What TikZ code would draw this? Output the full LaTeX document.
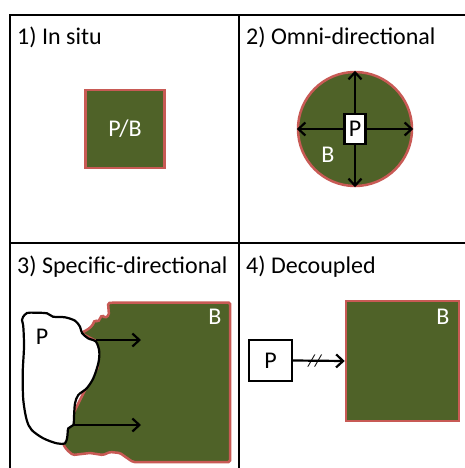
\documentclass[tikz,border=0pt]{standalone}
\usepackage{fontspec}
\setmainfont{Carlito}
\usetikzlibrary{arrows.meta}
\definecolor{bulkgreen}{RGB}{79,98,40}
\definecolor{bulkrim}{RGB}{200,90,85}
\tikzset{
  bulk/.style={fill=bulkgreen, draw=bulkrim, line width=2.5pt},
  pbox/.style={draw, line width=2.2pt, fill=white, inner sep=0pt},
  flow/.style={-{Straight Barb[length=7pt,width=13pt]}, line width=2.2pt},
  frameline/.style={line width=1.8pt},
  title/.style={anchor=base west, inner sep=0pt}
}
\begin{document}
\begin{tikzpicture}[x=1pt, y=-1pt, font=\fontsize{24}{28}\selectfont]
\useasboundingbox (0,0) rectangle (465,468);
% frame
\draw [frameline] (10,468) -- (10,15) -- (465,15);
\draw [frameline] (239,15) -- (239,468);
\draw [frameline] (10,243) -- (465,243);
\node [title] (t1) at (17,45) {1) In situ};
\node [title] (t2) at (246,45) {2) Omni-directional};
\node [title] (t3) at (17,273) {3) Specific-directional};
\node [title] (t4) at (246,273) {4) Decoupled};

% 1) in situ
\node [bulk, minimum width=79pt, minimum height=78pt, text=white] (pb) at (125,129) {P/B};

% 2) omni-directional
\node [bulk, circle, minimum size=114pt] (b2) at (355,129) {};
\node [pbox, minimum width=21pt, minimum height=30pt] (p2) at (355,129) {P};
\draw [flow] (p2.north) -- (b2.north);
\draw [flow] (p2.south) -- (b2.south);
\draw [flow] (p2.west) -- (b2.west);
\draw [flow] (p2.east) -- (b2.east);
\node [text=white] (lb2) at (328,155) {B};

% 3) specific-directional
\draw [bulk, rounded corners=1.5pt] (116,302.5) -- (230,302.5) -- (230,462) -- (133,462)
  -- (127,458) -- (120,453) -- (110,452) -- (103,455) -- (90,453) -- (73,455)
  -- (67,450) -- (63,444) -- (70,420) -- (85,390) -- (98,367) -- (96,341)
  -- (81,333) -- (87,330) -- (92,326) -- (95,320) -- (98,322) -- (102,315)
  -- (105,318) -- (109,315) -- (108,303) -- cycle;
\draw [line width=2.2pt, fill=white] plot [smooth cycle, tension=0.5] coordinates {
  (23,317) (27,313) (35,312.7) (47,313.3) (53,316.7) (65,317.3) (75,320.7)
  (80,326.7) (82,333) (88,338.3) (96,341.7) (99.3,351.7) (98.3,363.3)
  (93.3,378.3) (86.7,388.3) (78.3,395) (75,403.3) (74,416.7) (73.3,425)
  (68.3,428.3) (67.3,436.7) (65,443.3) (56.7,443.3) (43.3,438.3) (31.7,430)
  (26.7,420) (23.3,400) (22.7,373.3) (24,346.7) (23.3,326.7) (22,320)};
\coordinate (s1) at (96,340);
\coordinate (e1) at (141,340);
\coordinate (s2) at (73,425);
\coordinate (e2) at (141,425);
\draw [flow] (s1) -- (e1);
\draw [flow] (s2) -- (e2);
\node [] (lp3) at (42,337) {P};
\node [text=white] (lb3) at (215,317) {B};

% 4) decoupled
\node [pbox, minimum width=43pt, minimum height=41pt] (p4) at (270.5,360.5) {P};
\node [bulk, minimum width=113pt, minimum height=120pt] (b4) at (402.5,361) {};
\node [text=white] (lb4) at (443,317) {B};
\draw [flow] (p4.east) -- (b4.west)
  node [pos=0.42, inner sep=0pt, font=\itshape\fontsize{17}{17}\selectfont] (cut) {//};
\end{tikzpicture}
\end{document}
